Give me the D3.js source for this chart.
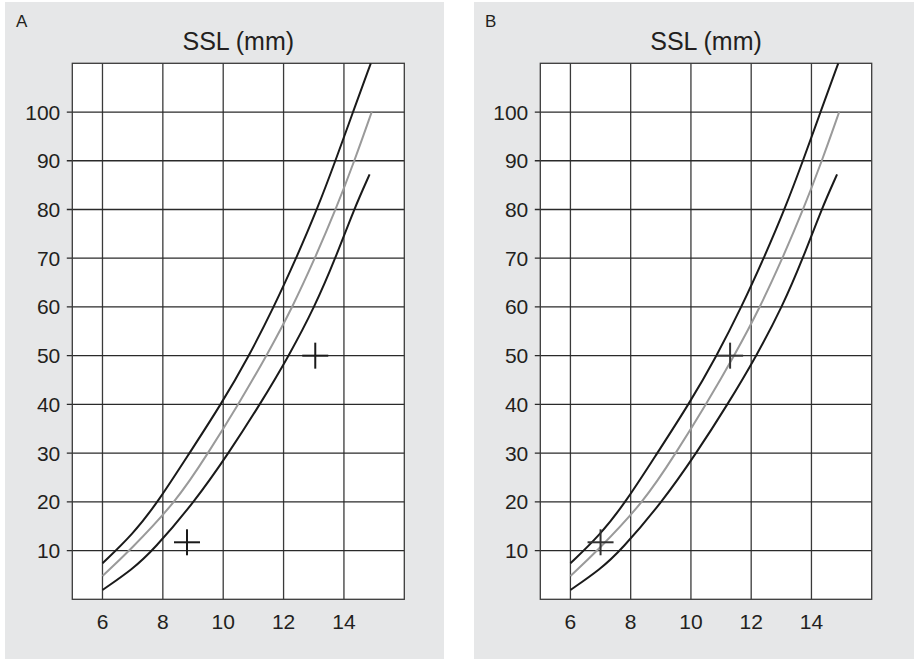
<!DOCTYPE html>
<html>
<head>
<meta charset="utf-8">
<script src="https://cdn.jsdelivr.net/npm/d3@7"></script>
<style>
  body { margin: 0; background: #fff; }
  svg text { font-family: "Liberation Sans", Arial, sans-serif; fill: #231f20; }
</style>
</head>
<body>
<div id="chart"></div>
<script>
// values: SSL (mm) on x, index on y
var xTicks = [6, 8, 10, 12, 14];
var yTicks = [10, 20, 30, 40, 50, 60, 70, 80, 90, 100];
var upperCurve = [[6, 7.4], [7, 13.3], [7.84, 20], [8.88, 30], [9.93, 40], [10.86, 50],
  [11.68, 60], [12.42, 70], [13.11, 80], [13.72, 90], [14.3, 100], [14.89, 110]];
var middleCurve = [[6, 4.8], [6.9, 10], [8.44, 20], [9.5, 30], [10.5, 40], [11.44, 50],
  [12.3, 60], [13.04, 70], [13.73, 80], [14.35, 90], [14.92, 100]];
var lowerCurve = [[6, 1.9], [7, 6.2], [7.67, 10], [9.05, 20], [10.18, 30], [11.22, 40], [12.18, 50],
  [13.03, 60], [13.72, 70], [14.33, 80], [14.85, 87.2]];
var crossesA = [[8.8, 11.7], [13.05, 50]];
var crossesB = [[7.0, 11.7], [11.3, 50]];

var width = 914, height = 660;
var svg = d3.select("#chart").append("svg")
  .attr("width", width).attr("height", height);

function panel(opts) {
  var g = svg.append("g");
  g.append("rect")
    .attr("x", opts.bg[0]).attr("y", 2)
    .attr("width", opts.bg[1] - opts.bg[0]).attr("height", 657)
    .attr("fill", "#e6e7e8");

  var x = d3.scaleLinear().domain([5, 16]).range([opts.left, opts.right]);
  var y = d3.scaleLinear().domain([0, 110]).range([599.3, 63.3]);

  g.append("text")
    .attr("x", opts.bg[0] + 11).attr("y", 27)
    .style("font-size", "17px")
    .text(opts.label);

  g.append("text")
    .attr("x", (opts.left + opts.right) / 2).attr("y", 50)
    .attr("text-anchor", "middle")
    .style("font-size", "25px")
    .text("SSL (mm)");

  g.append("rect")
    .attr("x", x(5)).attr("y", y(110))
    .attr("width", x(16) - x(5)).attr("height", y(0) - y(110))
    .attr("fill", "#fff");

  // grid
  g.selectAll(".vg").data(xTicks).enter().append("line")
    .attr("x1", (d) => x(d)).attr("x2", (d) => x(d))
    .attr("y1", y(0)).attr("y2", y(110))
    .attr("stroke", "#3a3a3a").attr("stroke-width", 1.3);
  g.selectAll(".hg").data(yTicks).enter().append("line")
    .attr("x1", x(5) - 5.5).attr("x2", x(16))
    .attr("y1", (d) => y(d)).attr("y2", (d) => y(d))
    .attr("stroke", "#2a2a2a").attr("stroke-width", 1.3);

  g.append("rect")
    .attr("x", x(5)).attr("y", y(110))
    .attr("width", x(16) - x(5)).attr("height", y(0) - y(110))
    .attr("fill", "none").attr("stroke", "#3a3a3a").attr("stroke-width", 1.3);

  g.selectAll(".yl").data(yTicks).enter().append("text")
    .attr("x", x(5) - 12).attr("y", (d) => y(d)).attr("dy", "0.36em")
    .attr("text-anchor", "end")
    .style("font-size", "21px")
    .text((d) => d);
  g.selectAll(".xl").data(xTicks).enter().append("text")
    .attr("x", (d) => x(d)).attr("y", 629)
    .attr("text-anchor", "middle")
    .style("font-size", "21px")
    .text((d) => d);

  var line = d3.line()
    .x((d) => x(d[0])).y((d) => y(d[1]))
    .curve(d3.curveBasis);

  g.append("path").attr("d", line(middleCurve))
    .attr("fill", "none").attr("stroke", "#9a9a9a").attr("stroke-width", 2);
  [upperCurve, lowerCurve].forEach((c) => {
    g.append("path").attr("d", line(c))
      .attr("fill", "none").attr("stroke", "#1a1a1a").attr("stroke-width", 2);
  });

  var arm = 13;
  opts.crosses.forEach((c) => {
    g.append("line")
      .attr("x1", x(c[0]) - arm).attr("x2", x(c[0]) + arm)
      .attr("y1", y(c[1])).attr("y2", y(c[1]))
      .attr("stroke", opts.crossColor).attr("stroke-width", 2);
    g.append("line")
      .attr("x1", x(c[0])).attr("x2", x(c[0]))
      .attr("y1", y(c[1]) - arm).attr("y2", y(c[1]) + arm)
      .attr("stroke", opts.crossColor).attr("stroke-width", 2);
  });
}

panel({ label: "A", bg: [5, 444], left: 72.3, right: 404.3, crosses: crossesA, crossColor: "#1a1a1a" });
panel({ label: "B", bg: [474, 914], left: 540.3, right: 871.7, crosses: crossesB, crossColor: "#333" });
</script>
</body>
</html>
